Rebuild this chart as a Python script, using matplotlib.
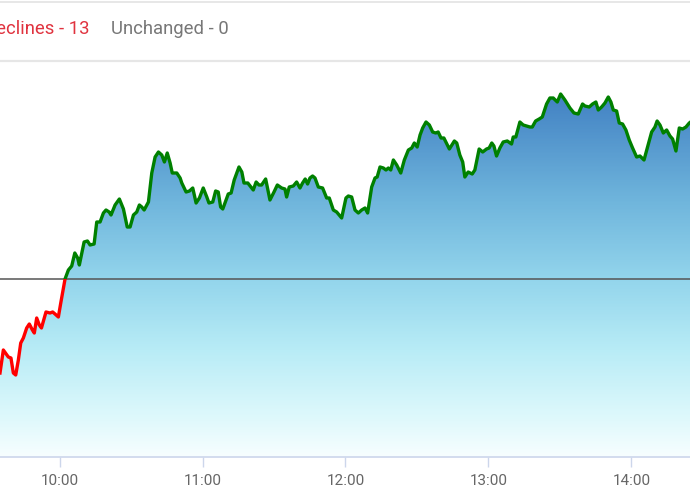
import numpy as np
import matplotlib
matplotlib.use("Agg")
import matplotlib.pyplot as plt
from matplotlib.colors import LinearSegmentedColormap
from matplotlib.patches import Rectangle
from matplotlib.lines import Line2D

# ---- data: minutes after 09:00, change vs previous close (points) ----
minutes = [35.0, 36.4, 38.5, 39.6, 40.6, 41.6, 42.7, 43.7, 44.8, 46.2, 47.3, 48.6, 49.4,
           50.4, 51.5, 52.4, 54.3, 56.0, 57.1, 58.1, 59.5, 60.5, 62.3, 63.7, 65.1, 66.4,
           67.6, 68.3, 70.3, 71.7, 72.8, 74.5, 75.6, 77.0, 78.4, 79.5, 80.8, 81.6, 83.3,
           85.1, 86.8, 88.4, 89.6, 91.0, 92.4, 93.5, 94.5, 95.5, 97.3, 98.7, 100.1, 101.5,
           102.9, 104.0, 105.2, 106.4, 107.3, 109.2, 110.6, 111.3, 113.1, 114.5, 115.9,
           117.3, 118.7, 120.3, 121.8, 122.7, 124.3, 125.5, 126.6, 127.6, 128.5, 129.9,
           130.8, 132.0, 133.3, 135.3, 136.5, 137.4, 139.0, 141.3, 142.5, 143.7, 144.8,
           146.5, 148.3, 150.0, 151.4, 153.2, 154.6, 155.3, 156.4, 158.1, 159.5, 160.9,
           162.0, 163.1, 164.1, 165.1, 166.2, 167.2, 168.6, 170.4, 172.1, 173.2, 174.9,
           176.3, 178.4, 180.2, 181.2, 182.6, 184.0, 185.4, 186.8, 188.2, 189.3, 191.0,
           192.4, 193.3, 194.5, 195.9, 197.0, 198.0, 199.0, 200.1, 201.5, 203.2, 204.7,
           206.4, 207.8, 208.9, 210.1, 211.3, 212.4, 213.8, 215.2, 216.6, 217.9, 218.9,
           220.1, 221.3, 223.6, 225.7, 226.7, 228.0, 229.2, 230.1, 231.5, 233.2, 234.3,
           236.1, 237.6, 239.2, 240.3, 241.4, 242.3, 243.4, 244.8, 246.2, 247.9, 249.7,
           250.4, 251.5, 253.2, 254.6, 257.4, 258.4, 259.8, 261.3, 262.6, 264.4, 265.8,
           267.2, 268.9, 270.3, 272.1, 274.2, 275.9, 277.7, 279.5, 280.5, 282.3, 283.7,
           285.1, 286.1, 287.5, 288.9, 290.3, 291.4, 292.4, 293.8, 294.9, 296.3, 297.7,
           299.1, 300.5, 302.2, 303.6, 305.3, 306.8, 308.5, 309.9, 310.8, 312.0, 313.4,
           314.8, 316.2, 317.3, 318.7, 320.1, 321.5, 322.9, 324.3, 325.4]
change = [-94, -71, -78, -79, -94, -96, -81, -64, -59, -49, -45, -51, -54,
          -39, -46, -49, -33, -34, -33, -35, -38, -24, 0, 9, 13, 26,
          21, 14, 37, 38, 34, 35, 57, 57, 66, 69, 67, 64, 74,
          80, 70, 52, 52, 64, 67, 74, 72, 69, 77, 106, 122, 127,
          124, 117, 126, 116, 106, 106, 101, 96, 87, 88, 91,
          76, 81, 91, 82, 76, 77, 88, 87, 72, 70, 79,
          85, 86, 99, 112, 107, 96, 96, 89, 97, 94, 94,
          100, 79, 87, 94, 91, 90, 82, 92, 93, 97, 91,
          96, 100, 95, 101, 103, 101, 92, 91, 81, 81, 69,
          67, 61, 81, 83, 82, 69, 66, 69, 71, 66, 92,
          101, 102, 112, 111, 109, 111, 109, 119, 114, 106, 119,
          129, 131, 136, 132, 144, 151, 157, 154, 147, 146, 147,
          141, 141, 130, 138, 136, 124, 117, 102, 107, 105, 109,
          130, 127, 130, 131, 136, 133, 123, 131, 137, 138, 135,
          142, 142, 157, 154, 152, 152, 158, 160, 162, 175, 181,
          181, 177, 185, 179, 171, 166, 165, 175, 173, 172, 175,
          177, 169, 172, 176, 182, 177, 169, 168, 156, 155, 149,
          139, 131, 122, 123, 119, 132, 147, 152, 158, 154, 146,
          149, 143, 140, 128, 151, 150, 152, 156, 158]
tick_minutes = [60, 120, 180, 240, 300]
tick_labels = ["10:00", "11:00", "12:00", "13:00", "14:00"]
header_declines = "Declines - 13"
header_unchanged = "Unchanged - 0"

t = np.array(minutes)
v = np.array(change, dtype=float)

W, H = 690, 500
fig = plt.figure(figsize=(W / 100, H / 100), dpi=100)
fig.patch.set_facecolor("white")

# plot area: x 0..690 px, y 62..457 px
ax = fig.add_axes([0, (H - 457) / H, 1, (457 - 62) / H])
ax.set_facecolor("white")
xmin, xmax = 35.0, 324.6
ymin, ymax = -178, 217
ax.set_xlim(xmin, xmax)
ax.set_ylim(ymin, ymax)

# gradient fill under the line
stops = [(0.0, "#f7feff"), (0.09, "#e0f9fc"), (0.27, "#b8ecf6"), (0.45, "#93d5ec"),
         (0.65, "#6fb5dc"), (0.90, "#4585c5"), (1.0, "#3f7fc2")]
cmap = LinearSegmentedColormap.from_list("grad", stops)
grad = np.linspace(0, 1, 400).reshape(-1, 1)
im = ax.imshow(grad, aspect="auto", cmap=cmap, origin="lower",
               extent=[xmin, xmax, ymin, ymax], zorder=1)
poly = ax.fill_between(t, v, ymin, color="none", lw=0)
path = poly.get_paths()[0]
im.set_clip_path(path, transform=ax.transData)

# previous-close reference line
ax.axhline(0, color="#555555", lw=1.1, zorder=3)

# line: red below previous close, green above
for col, rect in (("#ff0000", Rectangle((xmin - 50, ymin - 50), 500, 50 - ymin)),
                  ("#008000", Rectangle((xmin - 50, 0), 500, ymax + 50))):
    ln, = ax.plot(t, v, color=col, lw=2.4, zorder=4, solid_joinstyle="round")
    rect.set_transform(ax.transData)
    ln.set_clip_path(rect)

# axis styling
for s in ("top", "left", "right"):
    ax.spines[s].set_visible(False)
ax.spines["bottom"].set_color("#ccd6eb")
ax.spines["bottom"].set_linewidth(1.2)
ax.set_yticks([])
ax.set_xticks(tick_minutes)
ax.set_xticklabels(tick_labels)
ax.tick_params(axis="x", length=7.5, width=1, color="#ccd6eb", pad=4.5,
               labelsize=11, labelcolor="#666666")
for lab in ax.get_xticklabels():
    lab.set_fontfamily("Roboto")

# header
fig.add_artist(Line2D([0, 1], [1 - 1.5 / H, 1 - 1.5 / H], color="#e3e3e3", lw=1.2,
                      transform=fig.transFigure))
fig.add_artist(Line2D([0, 1], [1 - 61 / H, 1 - 61 / H], color="#e6e6e6", lw=1.6,
                      transform=fig.transFigure))
fig.text(90 / W, 1 - 29 / H, header_declines, ha="right", va="center",
         fontsize=13.3, color="#e0333f", family="Roboto")
fig.text(111 / W, 1 - 29 / H, header_unchanged, ha="left", va="center",
         fontsize=13.3, color="#777777", family="Roboto")

fig.savefig("out.png", dpi=100, facecolor="white")
